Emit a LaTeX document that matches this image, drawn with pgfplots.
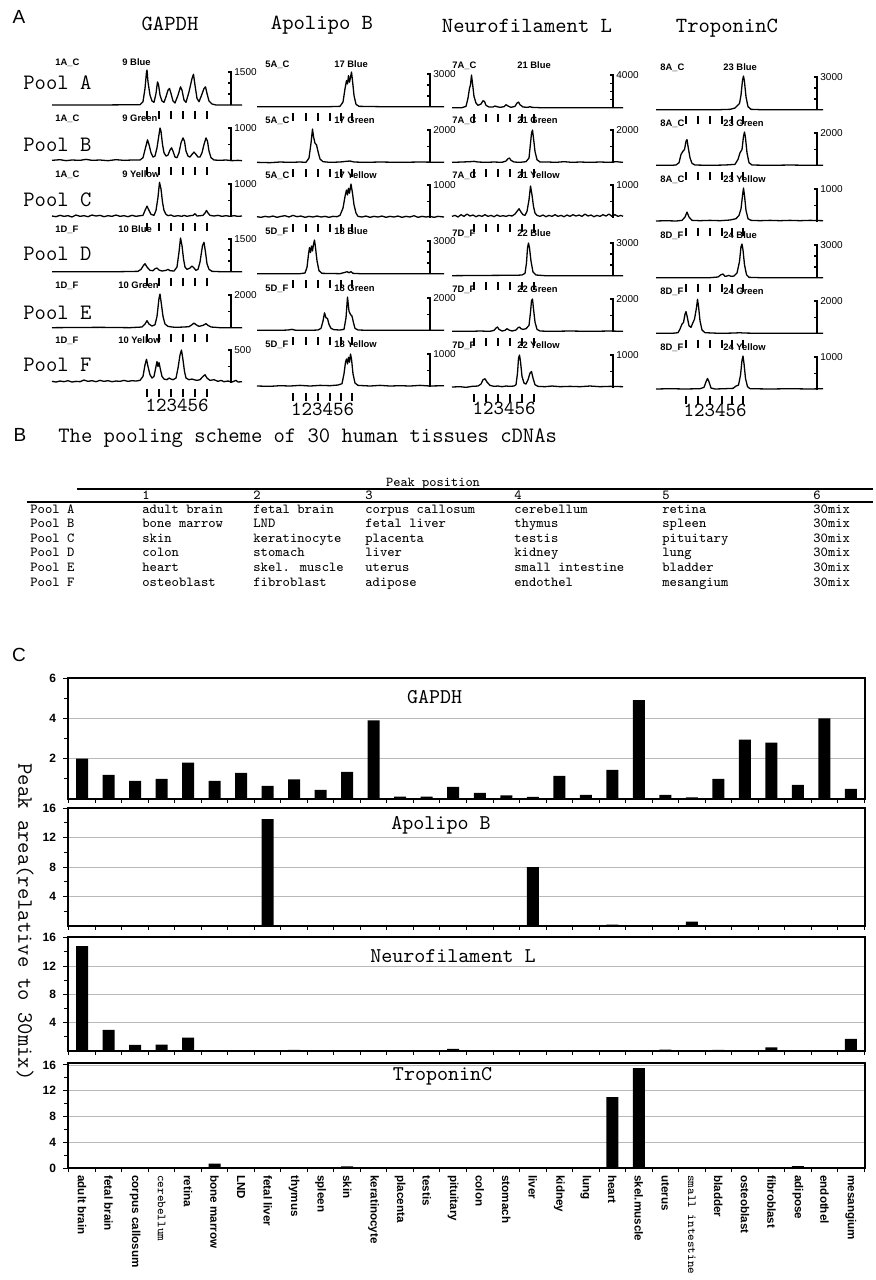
\documentclass[border=0pt]{standalone}
\usepackage{fontspec}
\setmainfont{Liberation Sans}
\usepackage{pgfplots}
\pgfplotsset{compat=1.18}
\newcommand\fs[1]{\fontsize{#1}{#1}\selectfont}
\newcommand\tl{\mdseries\ttfamily\fs{6.2}}
\tikzset{
 tr/.style={black, line width=0.65pt, line join=round},
 sb/.style={black, line width=0.6pt},
 pk/.style={black, line width=0.6pt},
 sl/.style={anchor=west, font=\fs{5}, inner sep=0pt, xshift=1.5pt},
 rl/.style={anchor=base west, font=\bfseries\fs{4.7}, inner sep=0pt},
}
\pgfplotsset{
 trace/.style={scale only axis, hide axis, clip=false, enlargelimits=false, ymin=0, ymax=1, height=16.5pt, anchor=south west},
 colG/.style={trace, xmin=52, xmax=242, width=95pt},
 colA/.style={trace, xmin=257, xmax=444, width=93.5pt},
 colN/.style={trace, xmin=452, xmax=623, width=85.5pt},
 colT/.style={trace, xmin=656, xmax=823, width=83.5pt},
 barax/.style={scale only axis, width=398.5pt, anchor=south west, xmin=-0.53, xmax=29.53, ymin=0,
   ybar, bar width=6pt, enlargelimits=false, xtick={0,...,29}, xticklabels={},
   minor xtick={-0.5,0.5,...,29.5}, major x tick style={draw=none}, minor tick length=2pt, major tick length=2.5pt,
   tick align=outside, xtick pos=left, ytick pos=left, ymajorgrids, major grid style={gray!55, line width=0.4pt},
   axis line style={line width=0.7pt}, tick style={black, line width=0.5pt},
   yticklabel style={font=\bfseries\fs{6}, /pgf/number format/assume math mode=true}, clip=false},
}
% scale bar
\newcommand\sbar[2]{\draw[sb] (axis cs:#1,0) -- (axis cs:#1,1) -- ++(-1.5pt,0pt); \node[sl] at (axis cs:#1,1) {#2};}
\newcommand\sthird[1]{\draw[sb] (axis cs:#1,0.333) -- ++(-1.5pt,0pt) (axis cs:#1,0.667) -- ++(-1.5pt,0pt);}
\newcommand\shalf[1]{\draw[sb] (axis cs:#1,0.5) -- ++(-1.5pt,0pt);}
\newcommand\squart[1]{\draw[sb] (axis cs:#1,0.25) -- ++(-1.5pt,0pt) (axis cs:#1,0.5) -- ++(-1.5pt,0pt) (axis cs:#1,0.75) -- ++(-1.5pt,0pt);}
% row labels
\newcommand\rlab[4]{\node[rl] at (axis cs:#1,1.2) {#2}; \node[rl] at (axis cs:#3,1.2) {#4};}
% peak ticks
\newcommand\pkt[6]{\draw[pk] (axis cs:#1,-0.18)--(axis cs:#1,-0.42) (axis cs:#2,-0.18)--(axis cs:#2,-0.42) (axis cs:#3,-0.18)--(axis cs:#3,-0.42) (axis cs:#4,-0.18)--(axis cs:#4,-0.42) (axis cs:#5,-0.18)--(axis cs:#5,-0.42) (axis cs:#6,-0.18)--(axis cs:#6,-0.42);}
\newcommand\tkG{\pkt{147}{159}{171}{183}{195}{207}}
\newcommand\tkA{\pkt{293}{306}{318}{330}{341}{352}}
\newcommand\tkN{\pkt{474}{486}{498}{510}{522}{534}}
\newcommand\tkT{\pkt{686}{698}{710}{722}{732}{743}}
\newcommand\trow[8]{%
 \node[anchor=base west] at (30,#1) {#2};
 \node[anchor=base west] at (142,#1) {#3};
 \node[anchor=base west] at (253,#1) {#4};
 \node[anchor=base west] at (365,#1) {#5};
 \node[anchor=base west] at (514,#1) {#6};
 \node[anchor=base west] at (662,#1) {#7};
 \node[anchor=base west] at (813,#1) {#8};}
\begin{document}
\begin{tikzpicture}
\path[use as bounding box] (0pt,0pt) rectangle (437.5pt,-640pt);

%================ GAPDH ================
\begin{axis}[colG, at={(26pt,-52.5pt)}]
\addplot[tr] coordinates {(52,0)(100,0)(140,0.01)(143,0.1)(145,0.5)(146.5,1.0)(147,1.06)(148,0.7)(150,0.3)(152,0.12)(154,0.08)(156,0.35)(157.5,0.7)(158.5,0.62)(160,0.3)(162,0.12)(164,0.08)(166,0.25)(168,0.45)(169.5,0.5)(171,0.35)(173,0.12)(175,0.06)(178,0.3)(180.5,0.55)(182,0.45)(184,0.15)(186,0.08)(189,0.4)(192,0.8)(193.5,0.93)(195,0.6)(197,0.2)(199,0.1)(201,0.25)(204,0.5)(205.5,0.55)(207,0.35)(209,0.12)(212,0.03)(216,0)(242,0)};
\sbar{231}{1500}\sthird{231}\rlab{55}{1A\_C}{122}{9 Blue}\tkG
\end{axis}
\begin{axis}[colG, at={(26pt,-80.5pt)}]
\addplot[tr] coordinates {(52,0.02)(60,0.04)(66,0.01)(72,0.03)(80,0.02)(86,0.05)(92,0.02)(100,0.03)(108,0.01)(116,0.04)(124,0.02)(132,0.03)(140,0.03)(143,0.1)(145.5,0.4)(147.5,0.64)(149,0.5)(151,0.25)(153,0.12)(155,0.15)(157,0.4)(159,0.8)(160,1.0)(161,0.9)(162.5,0.5)(164,0.25)(166,0.15)(168,0.18)(170,0.33)(171.5,0.4)(173,0.3)(175,0.12)(177,0.1)(179,0.25)(181,0.55)(183,0.7)(184.5,0.6)(186,0.3)(188,0.15)(190,0.12)(192,0.2)(194,0.27)(196,0.2)(198,0.12)(200,0.12)(202,0.25)(204,0.5)(206,0.7)(207.5,0.6)(209,0.3)(211,0.1)(214,0.03)(220,0.02)(226,0.03)(232,0.01)(238,0.02)(242,0.01)};
\sbar{231}{1000}\shalf{231}\rlab{55}{1A\_C}{122}{9 Green}\tkG
\end{axis}
\begin{axis}[colG, at={(26pt,-108.5pt)}]
\addplot[tr] coordinates {(52,0.03)(56,0.01)(60,0.05)(64,0.02)(68,0.04)(72,0.0)(76,0.06)(80,0.02)(84,0.04)(88,0.01)(92,0.06)(96,0.03)(100,0.05)(104,0.01)(108,0.04)(112,0.02)(116,0.06)(120,0.02)(124,0.04)(128,0.01)(132,0.05)(136,0.02)(140,0.04)(143,0.05)(145,0.2)(147,0.33)(149,0.2)(151,0.08)(154,0.05)(156,0.2)(158,0.6)(159.5,1.05)(161,0.85)(162.5,0.45)(164,0.2)(166,0.08)(168,0.04)(171,0.06)(174,0.02)(178,0.04)(182,0.02)(184,0.05)(187,0.02)(190,0.04)(193,0.05)(195,0.1)(197,0.03)(200,0.04)(203,0.05)(205,0.12)(206.5,0.2)(208,0.12)(210,0.05)(214,0.03)(218,0.05)(222,0.02)(226,0.04)(230,0.02)(234,0.04)(238,0.02)(242,0.03)};
\sbar{231}{1000}\shalf{231}\rlab{55}{1A\_C}{122}{9 Yellow}\tkG
\end{axis}
\begin{axis}[colG, at={(26pt,-136pt)}]
\addplot[tr] coordinates {(52,0.01)(120,0.01)(138,0.02)(141,0.08)(143.5,0.2)(145,0.25)(147,0.15)(150,0.05)(153,0.04)(155,0.1)(157,0.12)(159,0.06)(162,0.03)(166,0.05)(168,0.08)(170,0.04)(174,0.03)(177,0.15)(179,0.6)(180.5,1.03)(182,0.8)(183.5,0.4)(185,0.15)(187,0.08)(190,0.12)(192,0.18)(194,0.12)(196,0.05)(198,0.08)(200,0.3)(202.5,0.8)(204,0.9)(205.5,0.6)(207,0.25)(209,0.08)(212,0.02)(220,0.01)(242,0.01)};
\sbar{231}{1500}\sthird{231}\rlab{55}{1D\_F}{118}{10 Blue}\tkG
\end{axis}
\begin{axis}[colG, at={(26pt,-164pt)}]
\addplot[tr] coordinates {(52,0.01)(100,0.02)(130,0.01)(142,0.03)(145,0.12)(147,0.22)(149,0.12)(152,0.06)(155,0.1)(157,0.35)(159,0.9)(160,1.03)(161.5,0.7)(163,0.35)(165,0.12)(168,0.05)(172,0.03)(176,0.02)(184,0.03)(189,0.04)(192,0.1)(194,0.15)(196,0.1)(199,0.05)(203,0.08)(206,0.13)(208,0.08)(211,0.03)(220,0.01)(242,0.01)};
\sbar{231}{2000}\shalf{231}\rlab{55}{1D\_F}{118}{10 Green}\tkG
\end{axis}
\begin{axis}[colG, at={(26pt,-191.5pt)}]
\addplot[tr] coordinates {(52,0.05)(56,0.03)(60,0.06)(64,0.04)(68,0.07)(72,0.03)(76,0.05)(80,0.04)(84,0.09)(88,0.05)(92,0.07)(96,0.04)(100,0.08)(104,0.05)(108,0.07)(112,0.04)(116,0.06)(120,0.05)(124,0.08)(128,0.05)(132,0.07)(136,0.06)(140,0.08)(143,0.2)(145,0.55)(146.5,0.72)(148,0.5)(150,0.25)(152,0.15)(154,0.2)(156,0.5)(157,0.65)(158,0.5)(159,0.62)(160.5,0.4)(162,0.2)(164,0.12)(167,0.1)(169,0.15)(171,0.12)(173,0.1)(176,0.15)(178,0.45)(180,0.85)(181.5,1.0)(183,0.7)(184.5,0.35)(186,0.15)(189,0.1)(192,0.12)(194,0.1)(197,0.08)(200,0.1)(203,0.2)(205,0.25)(207,0.15)(210,0.08)(214,0.1)(218,0.05)(221,0.08)(224,0.04)(228,0.06)(232,0.03)(236,0.08)(238,0.03)(242,0.04)};
\sbar{231}{500}\shalf{231}\rlab{55}{1D\_F}{118}{10 Yellow}\tkG
\node[font=\ttfamily\fs{10}] at (axis cs:177,-0.68) {123456};
\end{axis}

%================ Apolipo B ================
\begin{axis}[colA, at={(128.5pt,-53.5pt)}]
\addplot[tr] coordinates {(257,0.01)(330,0.01)(340,0.02)(343,0.15)(345,0.55)(346.5,0.8)(347.5,0.7)(348.5,0.95)(349.5,0.75)(350.5,0.9)(351.5,1.06)(352.5,0.8)(354,0.35)(356,0.08)(359,0.02)(380,0.01)(444,0.01)};
\sbar{430}{3000}\sthird{430}\rlab{265}{5A\_C}{334}{17 Blue}\tkA
\end{axis}
\begin{axis}[colA, at={(128.5pt,-81.5pt)}]
\addplot[tr] coordinates {(257,0.02)(270,0.01)(280,0.03)(290,0.02)(300,0.03)(306,0.02)(309,0.15)(311,0.6)(312.5,1.03)(313.5,0.8)(315,0.6)(316.5,0.55)(318,0.35)(320,0.12)(323,0.04)(330,0.02)(340,0.03)(346,0.05)(350,0.06)(354,0.03)(365,0.02)(380,0.03)(400,0.02)(420,0.03)(444,0.02)};
\sbar{430}{2000}\shalf{430}\rlab{265}{5A\_C}{334}{17 Green}\tkA
\end{axis}
\begin{axis}[colA, at={(128.5pt,-109pt)}]
\addplot[tr] coordinates {(257,0.04)(261,0.02)(265,0.05)(269,0.03)(273,0.06)(277,0.02)(281,0.05)(285,0.07)(289,0.03)(293,0.08)(297,0.04)(301,0.06)(305,0.02)(309,0.05)(313,0.03)(317,0.06)(321,0.03)(325,0.05)(329,0.02)(333,0.05)(337,0.04)(340,0.08)(343,0.3)(345,0.65)(346.5,0.85)(347.5,0.7)(348.5,0.9)(349.5,0.75)(351,1.03)(352.5,0.75)(354,0.4)(356,0.15)(358,0.05)(362,0.03)(366,0.06)(370,0.02)(374,0.05)(378,0.03)(382,0.06)(386,0.02)(390,0.05)(394,0.03)(398,0.06)(402,0.02)(406,0.05)(410,0.03)(414,0.07)(418,0.02)(422,0.05)(426,0.03)(430,0.05)(434,0.02)(438,0.05)(444,0.03)};
\sbar{430}{1000}\shalf{430}\rlab{265}{5A\_C}{334}{17 Yellow}\tkA
\end{axis}
\begin{axis}[colA, at={(128.5pt,-137pt)}]
\addplot[tr] coordinates {(257,0.01)(300,0.01)(305,0.03)(307,0.2)(308.5,0.6)(309.5,0.8)(310.5,0.65)(311.5,0.85)(312.5,0.7)(313.5,0.9)(314.5,1.03)(315.5,0.8)(317,0.4)(319,0.1)(322,0.02)(340,0.01)(345,0.05)(347,0.07)(349,0.04)(351,0.07)(353,0.02)(360,0.01)(444,0.01)};
\sbar{430}{3000}\sthird{430}\rlab{265}{5D\_F}{334}{18 Blue}\tkA
\end{axis}
\begin{axis}[colA, at={(128.5pt,-165.5pt)}]
\addplot[tr] coordinates {(257,0.02)(280,0.02)(288,0.03)(292,0.05)(296,0.02)(310,0.02)(318,0.03)(321,0.08)(323,0.3)(324.5,0.55)(326,0.4)(327.5,0.38)(329,0.2)(331,0.08)(334,0.04)(340,0.03)(344,0.05)(346,0.4)(347.5,1.03)(349,0.6)(350.5,0.5)(352,0.45)(353.5,0.25)(355,0.08)(358,0.03)(370,0.02)(400,0.02)(444,0.02)};
\sbar{430}{2000}\shalf{430}\rlab{265}{5D\_F}{334}{18 Green}\tkA
\end{axis}
\begin{axis}[colA, at={(128.5pt,-193.5pt)}]
\addplot[tr] coordinates {(257,0.03)(270,0.02)(280,0.04)(290,0.03)(300,0.05)(310,0.03)(320,0.05)(330,0.04)(338,0.06)(342,0.1)(344,0.4)(345.5,0.75)(346.5,0.85)(347.5,0.7)(348.5,0.9)(349.5,0.75)(350.5,1.0)(351.5,0.85)(353,0.4)(355,0.12)(358,0.05)(370,0.03)(380,0.05)(390,0.03)(400,0.04)(410,0.03)(420,0.05)(430,0.03)(444,0.04)};
\sbar{430}{1000}\shalf{430}\rlab{265}{5D\_F}{334}{18 Yellow}\tkA
\node[font=\ttfamily\fs{10}] at (axis cs:322.5,-0.68) {123456};
\end{axis}

%================ Neurofilament L ================
\begin{axis}[colN, at={(226pt,-54pt)}]
\addplot[tr] coordinates {(452,0.01)(462,0.01)(466,0.05)(468,0.3)(469.5,0.6)(470.5,0.7)(471.5,1.0)(472.5,0.75)(474,0.35)(476,0.15)(478,0.08)(481,0.12)(483,0.22)(484.5,0.2)(486,0.08)(489,0.03)(493,0.03)(495,0.06)(497,0.04)(500,0.02)(504,0.04)(506,0.1)(508,0.06)(511,0.02)(515,0.05)(517,0.15)(518.5,0.18)(520,0.1)(523,0.03)(528,0.02)(530,0.04)(532,0.02)(540,0.01)(623,0.01)};
\sbar{613}{4000}\squart{613}\rlab{452}{7A\_C}{517}{21 Blue}\tkN
\end{axis}
\begin{axis}[colN, at={(226pt,-81.5pt)}]
\addplot[tr] coordinates {(452,0.02)(462,0.03)(470,0.04)(474,0.05)(478,0.03)(486,0.02)(494,0.03)(502,0.02)(506,0.06)(508,0.13)(509.5,0.15)(511,0.08)(514,0.03)(520,0.02)(526,0.04)(529,0.15)(530.5,0.6)(531.5,0.9)(532.5,1.0)(533.5,0.75)(535,0.35)(537,0.1)(540,0.03)(548,0.03)(556,0.02)(564,0.04)(572,0.02)(580,0.03)(590,0.02)(600,0.03)(610,0.02)(616,0.04)(623,0.02)};
\sbar{613}{2000}\shalf{613}\rlab{452}{7A\_C}{517}{21 Green}\tkN
\end{axis}
\begin{axis}[colN, at={(226pt,-109pt)}]
\addplot[tr] coordinates {(452,0.05)(455,0.08)(458,0.03)(461,0.1)(464,0.05)(467,0.12)(470,0.06)(473,0.09)(476,0.04)(479,0.08)(482,0.05)(485,0.1)(488,0.05)(491,0.08)(494,0.04)(497,0.09)(500,0.05)(503,0.07)(506,0.05)(509,0.08)(512,0.06)(515,0.12)(517,0.2)(519,0.28)(521,0.18)(523,0.1)(525,0.08)(527,0.2)(529,0.55)(530.5,0.97)(532,0.7)(533.5,0.35)(535,0.15)(537,0.08)(540,0.05)(543,0.09)(546,0.04)(549,0.08)(552,0.05)(555,0.1)(558,0.05)(561,0.08)(564,0.04)(567,0.09)(570,0.05)(573,0.1)(576,0.06)(579,0.09)(582,0.05)(585,0.12)(588,0.06)(591,0.09)(594,0.04)(597,0.08)(600,0.05)(603,0.1)(606,0.06)(609,0.12)(612,0.05)(615,0.1)(618,0.05)(621,0.08)(623,0.05)};
\sbar{613}{1000}\shalf{613}\rlab{452}{7A\_C}{517}{21 Yellow}\tkN
\end{axis}
\begin{axis}[colN, at={(226pt,-138pt)}]
\addplot[tr] coordinates {(452,0.01)(500,0.02)(515,0.02)(522,0.03)(525,0.08)(526.5,0.4)(527.5,0.85)(528.5,1.0)(529.5,0.85)(531,0.45)(533,0.12)(536,0.03)(545,0.01)(623,0.01)};
\sbar{613}{3000}\sthird{613}\rlab{452}{7D\_F}{517}{22 Blue}\tkN
\end{axis}
\begin{axis}[colN, at={(226pt,-166pt)}]
\addplot[tr] coordinates {(452,0.02)(470,0.02)(480,0.03)(490,0.02)(494,0.05)(496,0.12)(497.5,0.15)(499,0.08)(502,0.03)(505,0.05)(507,0.1)(509,0.06)(512,0.03)(516,0.06)(518,0.13)(519.5,0.15)(521,0.1)(523,0.08)(526,0.1)(529,0.2)(530.5,0.6)(531.5,0.95)(532.5,1.0)(533.5,0.7)(535,0.3)(537,0.08)(540,0.03)(550,0.02)(570,0.03)(590,0.02)(610,0.03)(623,0.02)};
\sbar{613}{2000}\shalf{613}\rlab{452}{7D\_F}{517}{22 Green}\tkN
\end{axis}
\begin{axis}[colN, at={(226pt,-194pt)}]
\addplot[tr] coordinates {(452,0.03)(460,0.04)(466,0.02)(472,0.05)(478,0.06)(481,0.12)(483,0.25)(485,0.28)(487,0.18)(490,0.08)(494,0.05)(498,0.06)(502,0.04)(506,0.06)(510,0.05)(514,0.06)(516,0.1)(517.5,0.45)(518.5,0.9)(519.5,1.0)(520.5,0.8)(522,0.35)(524,0.15)(526,0.12)(528,0.25)(530,0.45)(531.5,0.5)(533,0.3)(535,0.1)(538,0.05)(545,0.04)(552,0.06)(560,0.04)(570,0.05)(580,0.04)(590,0.06)(600,0.04)(610,0.05)(623,0.04)};
\sbar{613}{1000}\shalf{613}\rlab{452}{7D\_F}{517}{22 Yellow}\tkN
\node[font=\ttfamily\fs{10}] at (axis cs:504,-0.62) {123456};
\end{axis}

%================ TroponinC ================
\begin{axis}[colT, at={(328pt,-55pt)}]
\addplot[tr] coordinates {(656,0.01)(720,0.01)(730,0.02)(735,0.06)(738,0.15)(739.5,0.2)(741,0.45)(742.5,0.9)(743.5,1.03)(744.5,0.85)(746,0.4)(748,0.1)(751,0.02)(760,0.01)(823,0.01)};
\sbar{817}{3000}\sthird{817}\rlab{660}{8A\_C}{723}{23 Blue}\tkT
\end{axis}
\begin{axis}[colT, at={(328pt,-83pt)}]
\addplot[tr] coordinates {(656,0.02)(670,0.02)(676,0.03)(679,0.1)(681,0.35)(683,0.45)(684.5,0.5)(686,0.75)(687,0.8)(688,0.6)(690,0.25)(692,0.08)(695,0.03)(710,0.02)(725,0.03)(735,0.05)(738,0.2)(740,0.4)(742,0.5)(743.5,0.9)(744.5,1.03)(745.5,0.85)(747,0.4)(749,0.1)(752,0.03)(770,0.02)(790,0.03)(810,0.02)(823,0.02)};
\sbar{817}{2000}\shalf{817}\rlab{660}{8A\_C}{723}{23 Green}\tkT
\end{axis}
\begin{axis}[colT, at={(328pt,-111pt)}]
\addplot[tr] coordinates {(656,0.03)(666,0.04)(676,0.03)(682,0.05)(685,0.15)(687,0.3)(689,0.15)(692,0.05)(700,0.04)(710,0.05)(720,0.04)(730,0.06)(736,0.1)(739,0.2)(741,0.4)(742.5,0.8)(743.5,1.03)(744.5,0.8)(746,0.35)(748,0.1)(751,0.05)(760,0.04)(770,0.05)(780,0.04)(790,0.05)(800,0.04)(810,0.05)(823,0.04)};
\sbar{817}{1000}\shalf{817}\rlab{660}{8A\_C}{723}{23 Yellow}\tkT
\end{axis}
\begin{axis}[colT, at={(328pt,-139pt)}]
\addplot[tr] coordinates {(656,0.01)(710,0.01)(718,0.03)(721,0.1)(723,0.12)(725,0.05)(727,0.06)(729,0.08)(731,0.05)(734,0.06)(737,0.15)(739.5,0.5)(741,0.95)(742,1.03)(743,0.85)(744.5,0.4)(746.5,0.1)(749,0.02)(760,0.01)(823,0.01)};
\sbar{817}{3000}\sthird{817}\rlab{660}{8D\_F}{723}{24 Blue}\tkT
\end{axis}
\begin{axis}[colT, at={(328pt,-167pt)}]
\addplot[tr] coordinates {(656,0.02)(672,0.02)(678,0.04)(680,0.15)(682,0.3)(683.5,0.35)(685,0.6)(686,0.68)(687,0.55)(689,0.25)(691,0.2)(693,0.35)(694.5,0.45)(696.5,0.8)(697.5,1.05)(698.5,0.85)(700,0.4)(702,0.12)(705,0.04)(720,0.02)(735,0.03)(740,0.04)(743,0.03)(760,0.02)(823,0.02)};
\sbar{817}{2000}\shalf{817}\rlab{660}{8D\_F}{723}{24 Green}\tkT
\end{axis}
\begin{axis}[colT, at={(328pt,-195pt)}]
\addplot[tr] coordinates {(656,0.03)(670,0.04)(685,0.03)(700,0.04)(704,0.08)(706,0.25)(707.5,0.35)(709,0.25)(711,0.06)(715,0.03)(725,0.04)(733,0.05)(736,0.12)(738.5,0.15)(740.5,0.45)(742,0.9)(743,1.03)(744,0.8)(745.5,0.35)(747.5,0.1)(750,0.04)(770,0.03)(790,0.04)(810,0.03)(823,0.04)};
\sbar{817}{1000}\shalf{817}\rlab{660}{8D\_F}{723}{24 Yellow}\tkT
\node[font=\ttfamily\fs{10}] at (axis cs:715,-0.62) {123456};
\end{axis}

%================ Panel C bar charts ================
\begin{axis}[barax, at={(34pt,-399.5pt)}, height=60.5pt, ymax=6, ytick={2,4,6}, minor ytick={1,3,5}]
\addplot[fill=black, draw=none] coordinates {(0,2.0)(1,1.2)(2,0.9)(3,1.0)(4,1.8)(5,0.9)(6,1.3)(7,0.65)(8,0.97)(9,0.45)(10,1.35)(11,3.9)(12,0.12)(13,0.12)(14,0.6)(15,0.3)(16,0.18)(17,0.1)(18,1.15)(19,0.2)(20,1.45)(21,4.9)(22,0.2)(23,0.08)(24,1.0)(25,2.95)(26,2.8)(27,0.7)(28,4.0)(29,0.5)};
\node[font=\ttfamily\fs{10.5}] at (rel axis cs:0.46,0.84) {GAPDH};
\end{axis}
\begin{axis}[barax, at={(34pt,-463pt)}, height=59pt, ymax=16, ytick={4,8,12,16}, minor ytick={2,6,10,14}]
\addplot[fill=black, draw=none] coordinates {(7,14.5)(17,8.0)(20,0.2)(23,0.6)};
\node[font=\ttfamily\fs{10.5}] at (rel axis cs:0.468,0.85) {Apolipo B};
\end{axis}
\begin{axis}[barax, at={(34pt,-525.5pt)}, height=57pt, ymax=16.1, ytick={4,8,12,16}, minor ytick={2,6,10,14}]
\addplot[fill=black, draw=none] coordinates {(0,14.8)(1,3.0)(2,0.85)(3,0.9)(4,1.9)(5,0.12)(6,0.1)(8,0.15)(14,0.3)(22,0.2)(23,0.12)(24,0.15)(26,0.5)(29,1.7)};
\node[font=\ttfamily\fs{10.5}] at (rel axis cs:0.483,0.83) {Neurofilament L};
\end{axis}
\begin{axis}[barax, at={(34pt,-584pt)}, height=52.5pt, ymax=16.3, ytick={0,4,8,12,16}, minor ytick={2,6,10,14},
  xticklabels={adult brain, fetal brain, corpus callosum, {\tl cerebellum}, retina, bone marrow, LND, fetal liver, thymus, spleen, skin, keratinocyte, placenta, testis, pituitary, colon, stomach, liver, kidney, lung, heart, skel.muscle, uterus, {\tl small intestine}, bladder, osteoblast, fibroblast, adipose, endothel, mesangium},
  xticklabel style={rotate=-90, anchor=west, font=\bfseries\fs{5.8}, inner sep=1pt}]
\addplot[fill=black, draw=none] coordinates {(5,0.7)(10,0.25)(20,11.0)(21,15.5)(27,0.3)};
\node[font=\ttfamily\fs{10.5}] at (rel axis cs:0.47,0.87) {TroponinC};
\end{axis}

%================ texts in pixel coordinates ================
\begin{scope}[x=0.5pt, y=-0.5pt]
\node[font=\fs{9.5}] at (19,17) {A};
\node[font=\ttfamily\fs{10.8}] at (170,24) {GAPDH};
\node[font=\ttfamily\fs{10.8}] at (322,25) {Apolipo B};
\node[font=\ttfamily\fs{10.8}] at (527,26) {Neurofilament L};
\node[font=\ttfamily\fs{10.8}] at (727,28) {TroponinC};
\begin{scope}[every node/.style={anchor=west, font=\ttfamily\fs{11}, inner sep=0pt}]
\node at (23,83) {Pool A};
\node at (23,145) {Pool B};
\node at (23,200) {Pool C};
\node at (23,254) {Pool D};
\node at (23,313) {Pool E};
\node at (23,365) {Pool F};
\end{scope}
% Panel B
\node[font=\fs{9.5}] at (20,435) {B};
\node[anchor=west, inner sep=0pt, font=\ttfamily\fs{11}] at (58,438) {The pooling scheme of 30 human tissues cDNAs};
\node[anchor=base, inner sep=0pt, font=\ttfamily\fs{6.8}] at (433,486) {Peak position};
\draw[line width=1pt] (77,488.5) -- (873,488.5);
\draw[line width=1pt] (27,502) -- (873,502);
\begin{scope}[every node/.style={inner sep=0pt, font=\ttfamily\fs{6.9}}]
\trow{499}{}{1}{2}{3}{4}{5}{6}
\trow{513}{Pool A}{adult brain}{fetal brain}{corpus callosum}{cerebellum}{retina}{30mix}
\trow{527}{Pool B}{bone marrow}{LND}{fetal liver}{thymus}{spleen}{30mix}
\trow{542}{Pool C}{skin}{keratinocyte}{placenta}{testis}{pituitary}{30mix}
\trow{556}{Pool D}{colon}{stomach}{liver}{kidney}{lung}{30mix}
\trow{571}{Pool E}{heart}{skel. muscle}{uterus}{small intestine}{bladder}{30mix}
\trow{586}{Pool F}{osteoblast}{fibroblast}{adipose}{endothel}{mesangium}{30mix}
\end{scope}
% Panel C
\node[font=\fs{9.5}] at (19,655) {C};
\node[rotate=-90, font=\ttfamily\fs{11}] at (25,922) {Peak area(relative to 30mix)};
\end{scope}
\end{tikzpicture}
\end{document}
